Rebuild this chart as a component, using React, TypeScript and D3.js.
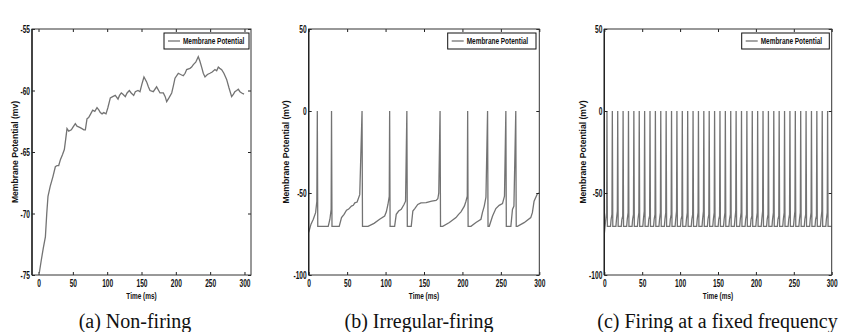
import React, { useEffect, useRef } from 'react';
import * as d3 from 'd3';

// ---- data ----
const timeTicks = [0, 50, 100, 150, 200, 250, 300];
const ticksA = [-75, -70, -65, -60, -55];
const ticksBC = [-100, -50, 0, 50];

// (a) non-firing: membrane potential [ms, mV]
const nonFiring: [number, number][] = [
  [1.2, -74.8], [4, -73.8], [7, -72.8], [10, -71.9], [12, -70], [13.8, -68.6], [17, -67.8],
  [21, -67], [24.5, -66.2], [27, -66.1], [29.4, -66.1], [32, -65.6], [35, -65.2], [37.6, -64.8],
  [39.5, -64], [41.5, -63.1], [44, -63.3], [47.8, -63.2], [50, -63], [53.6, -62.7], [56, -62.9],
  [60, -63], [63.3, -63.1], [66, -63.2], [68.2, -63.2], [70.6, -62.3], [73, -62.2], [76, -61.9],
  [78.9, -61.6], [82, -61.7], [85.2, -61.4], [88, -61.6], [90, -61.8], [92.5, -61.9], [95, -61.8],
  [98.3, -61.9], [101, -61.4], [104.6, -60.6], [108, -60.5], [111.8, -60.4], [115.8, -60.7],
  [118, -60.4], [120.6, -60.2], [123, -60.3], [126.4, -60.5], [129, -60.2], [132.3, -60.0],
  [135, -60.2], [138.6, -60.4], [141, -60.1], [144.9, -60], [147.8, -60.1], [150.5, -59.5],
  [153.6, -58.9], [157.5, -59.3], [160, -59.7], [162.4, -60], [167.2, -60.1], [172, -59.7],
  [177, -60.2], [181.8, -60.2], [184.5, -60.5], [186.7, -60.9], [190, -60.6], [194, -60.2],
  [196.5, -59.6], [198.8, -59], [203.6, -58.6], [207, -58.7], [210.9, -58.8], [213.5, -58.6],
  [215.8, -58.3], [220.6, -58.2], [223, -58.1], [225.5, -57.9], [229, -57.7], [232.7, -57.25],
  [235, -57.6], [237.6, -58.1], [240, -58.6], [242.5, -58.9], [246, -58.7], [249.7, -58.6],
  [253, -58.5], [257, -58.3], [259.5, -58.4], [261.9, -58.1], [264, -58.2], [266.8, -58.3],
  [270, -58.6], [274, -59.1], [277.5, -59.8], [281.3, -60.5], [284, -60.3], [286, -60.1],
  [288.6, -60], [291, -59.9], [293.4, -60.1], [296, -60.2], [299.3, -60.3],
];

// (b) irregular firing: membrane potential [ms, mV]
const irregular: [number, number][] = [
  [0, -74], [3, -69], [6, -66], [9, -62], [10.6, -55], [11.2, 0], [11.8, -70.3],
  [25.4, -70.3], [27.6, -66], [29.2, -60], [29.7, 0], [30.3, -70.3],
  [39.7, -70.3], [42.7, -65], [46, -63], [49.2, -60.5], [52, -59.8], [55.6, -58], [58, -57.5],
  [60, -56], [63, -55.5], [66.4, -51], [69.4, 0], [70, -70.3],
  [77.2, -70.3], [85, -68.5], [92.3, -66], [98.8, -64], [101, -61.5], [103.1, -57], [104.8, -52],
  [105.3, 0], [105.9, -70.3],
  [111.8, -70.3], [113.9, -63], [117, -61], [120.4, -60], [124, -57], [126, -55], [127.7, 0],
  [128.3, -70.3],
  [133.4, -70.3], [135.5, -61], [138, -59.5], [141.9, -57], [146, -56], [152.8, -55.9],
  [160, -55], [165.7, -54.5], [168, -53.5], [169.2, -50], [170.9, 0], [171.5, -70.3],
  [174.4, -70.3], [183, -68], [191.6, -65], [195, -63], [198.1, -61.5], [202.5, -58],
  [204.6, -55], [206.3, -52], [206.8, 0], [207.4, -70.3],
  [211.1, -70.3], [217.6, -68], [224.1, -66], [226, -62], [228.4, -58], [230.6, -52.5],
  [232.7, 0], [233.3, -70.3],
  [234.9, -70.3], [239.2, -64], [243.5, -59.5], [247.8, -57.5], [252.1, -56.5], [254.7, -52],
  [256.5, 0], [257.1, -70.3],
  [263, -70.3], [265.1, -60], [267, -58], [269.4, 0], [270, -70.3],
  [271.6, -70.3], [280.2, -68.1], [288.9, -65], [291, -62], [293.2, -55], [297.5, -50.4],
  [300, -50],
];

// (c) fixed frequency: spike times [ms]
const spikeTimes = [
  3.5, 10.6, 17.7, 24.8, 31.9, 39.0, 46.1, 53.2, 60.3, 67.4, 74.5, 81.6, 88.7, 95.8,
  102.9, 110.0, 117.1, 124.2, 131.3, 138.4, 145.5, 152.6, 159.7, 166.8, 173.9, 181.0,
  188.1, 195.2, 202.3, 209.4, 216.5, 223.6, 230.7, 237.8, 244.9, 252.0, 259.1, 266.2,
  273.3, 280.4, 287.5, 294.6,
];
// potential just before each spike (mV)
const preSpike = [
  -62, -63, -61, -64, -62, -63, -62, -61, -64, -63, -62, -62, -63, -61, -64, -62, -63, -62,
  -61, -63, -62, -64, -62, -63, -61, -62, -63, -64, -62, -61, -63, -62, -64, -62, -63, -61,
  -62, -63, -62, -64, -61, -62,
];
const resetLevel = -70.3;

function fixedTrace(): [number, number][] {
  const pts: [number, number][] = [[0, -75], [1.5, -68]];
  spikeTimes.forEach((s, i) => {
    if (i > 0) pts.push([s - 2.4, resetLevel], [s - 1.6, -66]);
    pts.push([s - 0.5, preSpike[i]], [s, 0], [s + 0.6, resetLevel]);
  });
  pts.push([300, resetLevel]);
  return pts;
}

const AXIS_FONT = '"Liberation Sans",Arial,sans-serif';
const TRACE = '#737373';

interface PanelCfg {
  id: string;
  x0: number; x1: number; y0: number; y1: number;
  xDomain: [number, number];
  yDomain: [number, number];
  yTicks: number[];
  yLabel: string;
  yLabelX: number;
  legendX: number; legendW: number;
  caption: string;
  captionX: number;
  data: [number, number][];
}

const panels: PanelCfg[] = [
  {
    id: 'a', x0: 32, x1: 251, y0: 29, y1: 275, xDomain: [-9.5, 309.5], yDomain: [-75, -55],
    yTicks: ticksA, yLabel: 'Membrane Potential (mv)', yLabelX: 14.5, legendX: 164, legendW: 85,
    caption: '(a) Non-firing', captionX: 135, data: nonFiring,
  },
  {
    id: 'b', x0: 308.7, x1: 539.3, y0: 29, y1: 275, xDomain: [0, 300], yDomain: [-100, 50],
    yTicks: ticksBC, yLabel: 'Membrane Potential (mV)', yLabelX: 286, legendX: 447.7, legendW: 88.3,
    caption: '(b) Irregular-firing', captionX: 419, data: irregular,
  },
  {
    id: 'c', x0: 604.3, x1: 831.7, y0: 29, y1: 275, xDomain: [0, 300], yDomain: [-100, 50],
    yTicks: ticksBC, yLabel: 'Membrane Potential (mV)', yLabelX: 583, legendX: 741.7, legendW: 87.6,
    caption: '(c) Firing at a fixed frequency', captionX: 717.5, data: fixedTrace(),
  },
];

const W = 842;
const H = 332;

// narrow bold sans text horizontally, like the condensed font of the original plot
function narrow(sel: any, sx: number) {
  sel.each(function (this: SVGTextElement) {
    const t = d3.select(this);
    const x = +(t.attr('x') || 0);
    const prev = t.attr('transform') || '';
    t.attr('x', x / sx).attr('transform', `${prev} scale(${sx},1)`.trim());
  });
}

const App = () => {
  const svgRef = useRef<SVGSVGElement>(null);

  useEffect(() => {
    const svg = d3.select(svgRef.current);
    svg.selectAll('*').remove();

    panels.forEach((p) => {
      const x = d3.scaleLinear().domain(p.xDomain).range([p.x0, p.x1]);
      const y = d3.scaleLinear().domain(p.yDomain).range([p.y1, p.y0]);
      const g = svg.append('g');

      g.append('clipPath').attr('id', `clip-${p.id}`)
        .append('rect')
        .attr('x', p.x0).attr('y', p.y0)
        .attr('width', p.x1 - p.x0).attr('height', p.y1 - p.y0);

      // trace
      const line = d3.line<[number, number]>().x(d => x(d[0])).y(d => y(d[1]));
      g.append('path')
        .datum(p.data)
        .attr('clip-path', `url(#clip-${p.id})`)
        .attr('fill', 'none')
        .attr('stroke', TRACE)
        .attr('stroke-width', 1.3)
        .attr('d', line);

      const fmt = (d: any) => String(d);
      const styleAxis = (sel: any, labels: boolean) => {
        sel.select('.domain').remove();
        sel.selectAll('line').attr('stroke', '#222').attr('stroke-width', 1);
        if (labels) {
          const t = sel.selectAll('text')
            .attr('fill', '#111')
            .style('font-family', AXIS_FONT)
            .style('font-weight', 'bold')
            .style('font-size', '11px');
          narrow(t, 0.6);
        }
      };

      // axes, ticks inward on all four sides
      g.append('g').attr('transform', `translate(0,${p.y1})`)
        .call(d3.axisBottom(x).tickValues(timeTicks).tickSizeInner(-3).tickSizeOuter(0).tickPadding(4).tickFormat(fmt))
        .call((s: any) => styleAxis(s, true));
      g.append('g').attr('transform', `translate(0,${p.y0})`)
        .call(d3.axisTop(x).tickValues(timeTicks).tickSizeInner(-3).tickSizeOuter(0).tickFormat(() => ''))
        .call((s: any) => styleAxis(s, false));
      g.append('g').attr('transform', `translate(${p.x0},0)`)
        .call(d3.axisLeft(y).tickValues(p.yTicks).tickSizeInner(-3).tickSizeOuter(0).tickPadding(2).tickFormat(fmt))
        .call((s: any) => styleAxis(s, true));
      g.append('g').attr('transform', `translate(${p.x1},0)`)
        .call(d3.axisRight(y).tickValues(p.yTicks).tickSizeInner(-3).tickSizeOuter(0).tickFormat(() => ''))
        .call((s: any) => styleAxis(s, false));

      // frame
      g.append('rect')
        .attr('x', p.x0).attr('y', p.y0)
        .attr('width', p.x1 - p.x0).attr('height', p.y1 - p.y0)
        .attr('fill', 'none').attr('stroke', '#333').attr('stroke-width', 1);
      g.append('line')
        .attr('x1', p.x0).attr('x2', p.x0).attr('y1', p.y0).attr('y2', p.y1)
        .attr('stroke', '#222').attr('stroke-width', 1.4);

      // legend
      const lg = g.append('g').attr('transform', `translate(${p.legendX},33)`);
      lg.append('rect').attr('width', p.legendW).attr('height', 16)
        .attr('fill', '#fff').attr('stroke', '#111').attr('stroke-width', 1);
      lg.append('line').attr('x1', 4).attr('x2', 16).attr('y1', 8).attr('y2', 8)
        .attr('stroke', TRACE).attr('stroke-width', 1.3);
      const lt = lg.append('text').attr('x', 19).attr('y', 8).attr('dy', '0.35em')
        .attr('fill', '#111')
        .style('font-family', AXIS_FONT).style('font-weight', 'bold').style('font-size', '9.8px')
        .text('Membrane Potential');
      narrow(lt, 0.66);

      // axis titles
      const xl = g.append('text')
        .attr('x', (p.x0 + p.x1) / 2).attr('y', 296).attr('dy', '0.35em')
        .attr('text-anchor', 'middle').attr('fill', '#111')
        .style('font-family', AXIS_FONT).style('font-weight', 'bold').style('font-size', '9.5px')
        .text('Time (ms)');
      narrow(xl, 0.68);
      g.append('text')
        .attr('transform', `translate(${p.yLabelX},${(p.y0 + p.y1) / 2}) rotate(-90)`)
        .attr('dy', '0.35em')
        .attr('text-anchor', 'middle').attr('fill', '#111')
        .style('font-family', AXIS_FONT).style('font-weight', 'bold').style('font-size', '8.6px')
        .text(p.yLabel);

      // caption
      g.append('text')
        .attr('x', p.captionX).attr('y', 328)
        .attr('text-anchor', 'middle').attr('fill', '#111')
        .style('font-family', '"Liberation Serif","Times New Roman",serif')
        .style('font-size', '20px')
        .text(p.caption);
    });
  }, []);

  return (
    <svg
      ref={svgRef}
      width={W}
      height={H}
      style={{ position: 'absolute', left: 0, top: 0, background: '#fff' }}
    />
  );
};

export default App;
